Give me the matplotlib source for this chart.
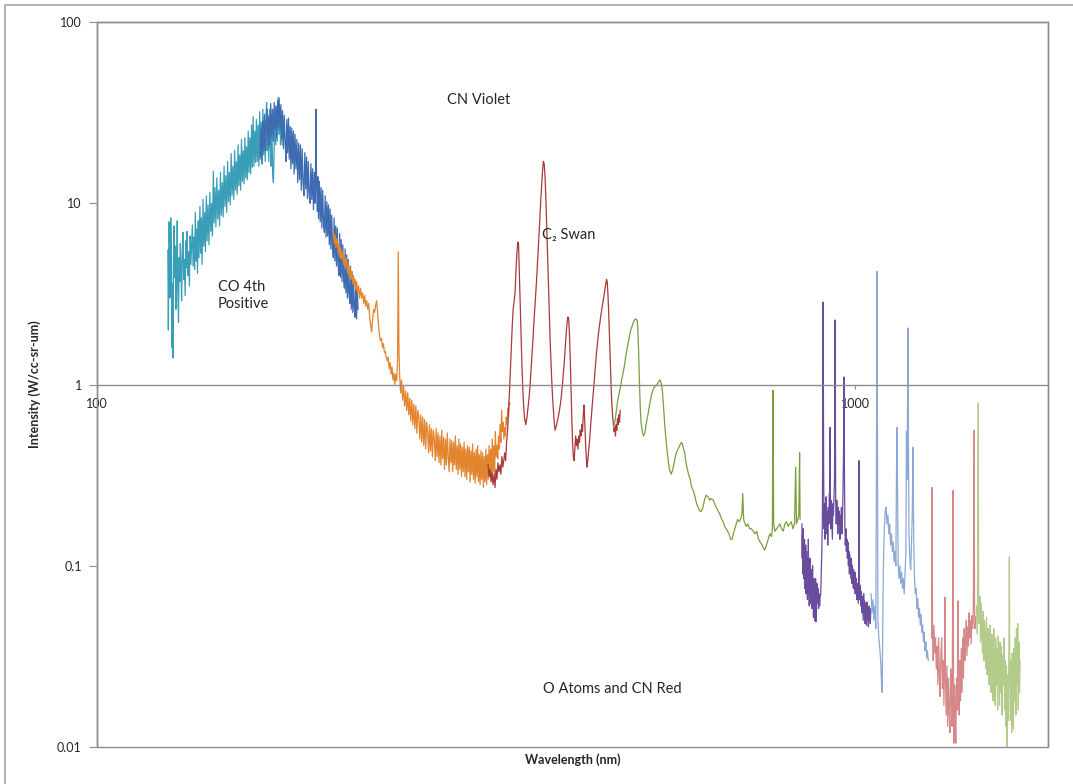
import matplotlib
matplotlib.use("Agg")
import matplotlib.pyplot as plt
from matplotlib.patches import Rectangle
from matplotlib.ticker import FixedLocator, NullLocator, FixedFormatter

plt.rcParams['font.family'] = ['Lato', 'DejaVu Sans']

# ---------------- data (wavelength nm, intensity W/cc-sr-um) ----------------
wl_teal = [124.0,124.2,124.5,124.7,124.9,125.1,125.4,125.6,125.8,126.0,126.2,126.4,126.7,126.9,127.1,127.4,127.6,127.8,128.1,128.3,
           128.6,128.8,129.1,129.3,129.6,129.9,130.1,130.4,130.7,131.0,131.3,131.5,131.8,132.1,132.4,132.7,133.0,133.3,133.6,133.9,
           134.2,134.5,134.8,135.1,135.4,135.7,136.0,136.3,136.7,137.0,137.3,137.6,138.0,138.3,138.7,139.0,139.4,139.7,140.1,140.5,
           140.9,141.3,141.7,142.0,142.4,142.7,143.1,143.5,143.9,144.3,144.7,145.1,145.5,145.9,146.3,146.7,147.1,147.5,147.9,148.3,
           148.7,149.1,149.5,149.9,150.3,150.7,151.1,151.5,151.9,152.3,152.7,153.1,153.5,153.9,154.3,154.7,155.1,155.5,155.9,156.3,
           156.7,157.1,157.5,157.9,158.3,158.7,159.1,159.5,159.9,160.3,160.7,161.1,161.5,161.9,162.3,162.7,163.1,163.5,163.9,164.3,
           164.7,165.1,165.5,165.9,166.3,166.7,167.1,167.4,167.7,168.1,168.5,168.9,169.3,169.7,170.1,170.5,170.9,171.3,171.7,172.1,
           172.5,172.9,173.4,173.8,174.2,174.6,175.0,175.5]
int_teal = [5.5,2.0,7.9,4.2,3.0,8.3,4.8,1.6,3.6,1.4,5.2,7.5,3.9,5.8,2.6,4.4,8.0,3.4,2.2,5.0,
            3.7,6.0,4.1,2.9,5.6,6.9,3.8,4.9,3.1,6.2,4.4,7.0,4.0,5.4,3.5,6.6,4.6,5.9,7.6,4.5,
            6.5,4.3,8.9,4.8,7.2,4.1,8.0,5.0,9.6,5.3,8.3,4.6,10.5,5.8,8.9,5.4,11.0,6.2,9.8,5.9,
            11.5,7.0,10.0,6.6,15.0,7.8,12.2,7.4,13.8,8.2,11.8,7.5,14.8,8.6,13.0,8.4,16.0,9.6,14.2,8.9,
            17.0,10.2,14.8,9.8,18.8,11.0,16.0,10.5,19.5,11.8,17.0,11.2,21.0,12.5,18.5,11.8,22.5,13.2,19.5,12.8,
            23.0,13.8,20.5,13.5,25.0,14.8,23.0,14.5,27.0,15.8,30.0,16.0,25.0,16.8,29.0,17.0,27.0,16.0,32.0,18.0,
            28.0,16.5,33.0,18.5,30.0,17.0,31.0,36.0,19.5,30.0,17.0,33.0,21.0,16.0,28.0,14.5,13.0,20.0,32.0,21.0,
            34.0,22.0,38.5,24.0,34.0,21.0,31.0,21.0]

wl_blue = [164.0,164.5,165.0,165.4,165.9,166.3,166.8,167.2,167.7,168.1,168.6,169.0,169.5,169.9,170.4,170.8,171.3,171.7,172.2,172.6,
           173.1,173.5,173.9,174.4,174.8,175.3,175.7,176.2,176.6,177.1,177.5,178.0,178.4,178.9,179.3,179.8,180.2,180.7,181.1,181.6,
           182.0,182.5,183.0,183.5,184.0,184.5,185.0,185.5,186.0,186.5,187.0,187.5,188.0,188.5,189.0,189.5,190.0,190.5,191.0,191.5,
           192.0,192.5,193.0,193.5,194.0,194.3,194.5,194.8,195.2,195.6,196.0,196.5,197.0,197.5,198.0,198.5,199.0,199.5,200.0,200.5,
           201.0,201.5,202.0,202.5,203.0,203.5,204.0,204.5,205.0,205.5,206.0,206.5,207.0,207.5,208.0,208.5,209.0,209.5,210.0,210.5,
           211.0,211.5,212.0,212.5,213.0,213.5,214.0,214.5,215.0,215.5,216.0,216.5,217.0,217.5,218.0,218.5,219.0,219.5,220.0,220.5,
           221.0]
int_blue = [17.5,26.0,16.5,28.5,19.5,31.0,19.5,27.5,33.0,20.5,30.5,21.0,35.5,23.0,33.0,22.0,36.0,25.5,34.5,23.0,
            37.0,26.5,38.0,25.5,35.0,22.5,32.5,20.0,30.5,22.0,17.0,29.0,19.0,29.5,17.5,26.5,15.5,26.0,16.5,25.0,
            14.5,24.0,15.5,22.5,13.0,21.5,13.5,21.0,11.8,20.0,13.0,11.0,19.0,12.0,18.0,10.6,17.0,11.2,10.0,16.5,
            10.5,15.5,9.2,14.8,10.0,20.0,33.0,13.5,9.0,14.0,8.2,13.2,7.9,12.2,7.3,11.8,7.8,6.9,11.0,6.5,
            10.2,6.6,9.8,5.9,9.3,5.6,8.6,5.7,5.0,8.3,4.8,7.5,4.5,7.3,4.6,4.0,6.8,3.9,6.3,3.7,
            5.9,3.9,3.4,5.6,3.2,5.2,3.0,4.9,3.2,2.8,4.5,2.6,4.2,2.5,3.9,2.6,2.35,3.7,2.3,3.3,
            2.6]

wl_orange = [205.0,205.6,206.1,206.6,207.2,207.7,208.2,208.8,209.3,209.8,210.4,210.9,211.4,212.0,212.5,213.1,213.6,214.1,214.7,215.2,
             215.8,216.3,216.8,217.4,217.9,218.5,219.0,219.6,220.1,220.7,221.3,222.0,222.7,223.4,224.1,224.8,225.5,226.2,226.9,227.6,
             228.3,229.0,229.7,230.3,231.0,231.7,232.4,233.1,233.8,234.5,235.2,235.9,236.6,237.3,238.0,238.7,239.4,240.1,240.8,241.5,
             242.2,242.9,243.6,244.3,245.0,245.7,246.4,247.1,247.8,248.5,249.2,249.7,250.2,250.8,251.5,252.2,253.0,253.8,254.6,255.4,
             256.2,257.0,257.8,258.6,259.4,260.2,261.0,261.8,262.6,263.4,264.2,265.0,265.8,266.6,267.4,268.2,269.0,269.8,270.6,271.4,
             272.2,273.0,273.8,274.6,275.4,276.2,277.0,277.8,278.6,279.4,280.2,281.0,281.8,282.6,283.4,284.2,285.0,285.8,286.6,287.4,
             288.2,289.0,289.8,290.6,291.4,292.2,293.0,293.8,294.6,295.4,296.2,297.0,297.8,298.6,299.4,300.2,301.0,301.8,302.6,303.4,
             304.2,305.0,305.8,306.6,307.4,308.2,309.0,309.8,310.6,311.4,312.2,313.0,313.8,314.6,315.4,316.2,317.0,317.8,318.6,319.4,
             320.2,321.0,321.8,322.6,323.4,324.2,325.0,325.8,326.6,327.4,328.2,329.0,329.8,330.6,331.4,332.2,333.0,333.8,334.6,335.4,
             336.2,337.0,337.8,338.6,339.4,340.2,341.0,341.8,342.6,343.4,344.2,345.0,345.8,346.6,347.4,348.2,349.0,349.8,350.7]
int_orange = [7.1,6.0,6.7,5.7,6.4,6.0,5.3,6.1,5.0,5.6,4.9,5.4,4.6,5.2,4.4,5.0,4.5,4.1,4.7,3.9,
              4.4,3.8,4.2,3.6,4.0,3.5,3.8,3.3,3.7,3.2,3.5,3.0,3.4,3.0,3.2,2.8,3.1,2.7,2.9,2.6,
              2.8,2.3,2.1,1.95,2.3,2.6,2.5,2.75,2.9,2.5,2.1,1.85,1.75,1.8,1.6,1.68,1.5,1.52,1.4,1.35,
              1.42,1.22,1.32,1.14,1.25,1.06,1.16,1.0,1.14,1.05,1.4,5.4,1.6,1.1,0.9,1.06,0.82,0.98,0.76,0.92,
              0.72,0.9,0.68,0.84,0.63,0.82,0.6,0.78,0.57,0.76,0.54,0.72,0.66,0.5,0.68,0.48,0.66,0.46,0.64,0.44,
              0.62,0.55,0.42,0.6,0.43,0.57,0.4,0.56,0.5,0.38,0.57,0.4,0.54,0.37,0.52,0.36,0.56,0.39,0.51,0.34,
              0.5,0.36,0.54,0.4,0.33,0.5,0.37,0.49,0.33,0.48,0.36,0.52,0.34,0.46,0.32,0.5,0.34,0.47,0.31,0.45,
              0.33,0.48,0.31,0.44,0.3,0.46,0.33,0.45,0.29,0.43,0.32,0.47,0.3,0.42,0.285,0.44,0.31,0.46,0.29,0.41,
              0.28,0.43,0.3,0.42,0.27,0.4,0.29,0.44,0.28,0.41,0.3,0.46,0.31,0.44,0.3,0.5,0.33,0.46,0.32,0.55,
              0.4,0.46,0.39,0.52,0.44,0.6,0.48,0.72,0.55,0.62,0.5,0.58,0.52,0.66,0.6,0.74,0.66,0.8,0.78]

wl_red = [328,329,330,331,332,333,334,335,336,337,338,339,340,341,342,343,344,345,346,347,
          348,349,350,351,352,353,354,355,356,357,358,359,359.8,360.5,361.5,362.5,363.5,364.5,365.5,366.5,
          367.8,369,370,371,372,373,374,375,376,377,378,379,380,381,382,383,384,385,386,387,
          388,389,390,391,392,393,394,395,396,397,398,399,400,401,402,403,404,405,406,407,
          408,409,410,411,412,413,414,415,416,417,418,419,420,421,422,423,424,425,426,427,
          428,429,430,431,432,433,434,435,436,437,438,439,440,441,442,443,444,445,446,447,
          448,450,452,454,456,458,460,462,464,466,468,470,471,472,473,474,475,476,477,478,
          479,480,481,482,483,484,485,486,487,488,489,490]
int_red = [0.36,0.31,0.34,0.29,0.33,0.28,0.32,0.27,0.34,0.3,0.37,0.33,0.36,0.32,0.4,0.35,0.38,0.42,0.38,0.48,
           0.55,0.7,0.9,1.2,1.6,2.1,2.6,2.9,3.2,4.2,5.3,6.1,6.0,4.5,2.9,1.9,1.3,0.95,0.75,0.65,
           0.6,0.65,0.72,0.8,0.9,1.05,1.25,1.5,1.8,2.2,2.6,3.1,3.7,4.5,5.5,6.8,8.5,10.5,12.5,15.0,
           17.0,16.5,14.0,10.5,7.5,5.2,3.6,2.5,1.8,1.35,1.05,0.85,0.72,0.62,0.56,0.58,0.6,0.64,0.66,0.7,
           0.75,0.8,0.88,0.98,1.1,1.25,1.45,1.7,1.95,2.2,2.36,2.3,1.9,1.4,0.95,0.65,0.48,0.4,0.38,0.45,
           0.52,0.46,0.5,0.44,0.52,0.48,0.56,0.52,0.6,0.55,0.68,0.77,0.62,0.48,0.4,0.35,0.38,0.42,0.46,0.52,
           0.6,0.75,0.95,1.2,1.5,1.8,2.1,2.4,2.7,3.0,3.4,3.8,3.7,3.2,2.6,2.0,1.5,1.15,0.9,0.75,
           0.66,0.6,0.55,0.58,0.52,0.6,0.56,0.65,0.6,0.68,0.62,0.72]

wl_green = [480,482,484,486,488,490,492,494,496,498,500,502,504,506,508,510,512,514,516,517,
            518,519,520,521,522,524,526,528,530,533,536,539,542,545,548,551,553,555,557,559,
            561,563,565,567,569,572,575,578,581,584,587,590,592,594,596,598,600,603,606,609,
            612,615,618,621,624,627,630,633,636,640,643,646,650,653,656,660,664,667,670,673,
            676,679,682,685,688,691,694,697,700,703,706,709,711,713,716,719,722,726,730,734,
            738,742,746,750,754,757,760,764,768,772,776,778,779.6,781,784,788,792,796,800,804,
            808,812,816,820,824,828,832,835,837,840,843,845,846.2]
int_green = [0.58,0.62,0.7,0.8,0.88,0.95,1.05,1.15,1.25,1.4,1.55,1.7,1.85,2.0,2.1,2.2,2.28,2.3,2.25,2.0,
             1.6,1.2,0.9,0.72,0.62,0.55,0.52,0.54,0.6,0.68,0.78,0.88,0.95,0.98,1.0,1.04,1.06,1.02,0.92,0.75,
             0.6,0.5,0.43,0.38,0.34,0.32,0.34,0.38,0.42,0.44,0.46,0.48,0.47,0.44,0.42,0.38,0.35,0.32,0.3,0.27,
             0.26,0.24,0.22,0.21,0.2,0.2,0.21,0.23,0.245,0.24,0.23,0.235,0.23,0.22,0.21,0.2,0.19,0.18,0.175,0.165,
             0.16,0.155,0.15,0.14,0.14,0.15,0.16,0.17,0.18,0.175,0.18,0.19,0.25,0.18,0.17,0.165,0.17,0.16,0.16,0.155,
             0.15,0.155,0.14,0.135,0.13,0.125,0.122,0.13,0.14,0.15,0.145,0.16,0.93,0.17,0.155,0.16,0.165,0.17,0.16,0.155,
             0.17,0.175,0.165,0.17,0.175,0.16,0.17,0.35,0.17,0.18,0.19,0.42,0.18]

wl_purple = [851,851.8,852.5,853.2,854,854.7,855.4,856.2,857,857.7,858.5,859.2,860,860.8,861.5,862.3,863,863.8,864.6,865.4,
             866.2,867,867.8,868.6,869.4,870.2,871,871.8,872.6,873.4,874.2,875,875.8,876.6,877.4,878.2,879,879.8,880.6,881.4,
             882.2,883,883.8,884.6,885.4,886.2,887,887.8,888.6,889.4,890.5,892,893.5,895,896.5,898,899.5,901,902.5,904,
             905.5,906.5,907.1,907.6,908.2,909,910,911.5,913,914.5,916,917.5,919,920.5,922,923.5,925,926.2,926.8,927.5,
             929,930.5,932,933.5,935,936.5,938,939.5,940.4,941.1,941.8,943,944.5,946,947.5,949,950.5,952,953.5,955,
             956.5,958,959.5,961,962.5,964,965.5,967,968,969.5,971,972.5,974,975.5,977,978.5,980,981.5,983,984.5,
             986,987.5,989,990.5,992,993.5,995,996.5,998,999.5,1001,1002.5,1004,1005.5,1007,1008.5,1010,1011.4,1012.2,1013,
             1014.5,1016,1017.5,1019,1020.5,1022,1023.5,1025,1026.5,1028,1029.5,1031,1032.5,1034,1035.5,1037,1038.5,1040,1041.5,1043,
             1044.5,1046,1047.5,1049]
int_purple = [0.17,0.11,0.15,0.09,0.13,0.16,0.085,0.12,0.1,0.14,0.075,0.11,0.09,0.13,0.07,0.1,0.12,0.075,0.095,0.065,
              0.11,0.085,0.14,0.07,0.09,0.06,0.1,0.075,0.11,0.062,0.085,0.07,0.095,0.058,0.08,0.066,0.1,0.06,0.075,0.052,
              0.085,0.064,0.078,0.05,0.07,0.058,0.085,0.049,0.065,0.055,0.08,0.062,0.075,0.058,0.07,0.06,0.068,0.07,0.09,0.12,
              0.18,0.5,1.6,2.85,1.2,0.35,0.16,0.22,0.14,0.19,0.24,0.15,0.2,0.13,0.21,0.17,0.25,0.2,0.58,0.2,
              0.16,0.23,0.18,0.14,0.22,0.19,0.24,0.3,0.9,2.27,0.8,0.22,0.17,0.23,0.19,0.15,0.21,0.17,0.2,0.14,
              0.19,0.16,0.21,0.15,0.18,0.25,0.4,1.1,0.4,0.17,0.13,0.16,0.12,0.14,0.11,0.135,0.1,0.12,0.09,0.115,
              0.1,0.085,0.11,0.08,0.1,0.09,0.075,0.095,0.08,0.07,0.092,0.07,0.085,0.065,0.08,0.07,0.062,0.09,0.38,0.085,
              0.065,0.078,0.06,0.072,0.055,0.068,0.058,0.05,0.07,0.056,0.064,0.048,0.062,0.055,0.047,0.063,0.05,0.058,0.046,0.06,
              0.05,0.056,0.048,0.058]

wl_lblue = [1050,1053,1056,1059,1062,1065,1067,1069,1070.5,1072,1075,1078,1081,1084,1086,1088,1090,1093,1096,1099,
            1102,1105,1108,1111,1114,1117,1120,1123,1126,1129,1132,1134,1136,1138,1140,1143,1146,1149,1152,1155,
            1158,1161,1164,1167,1169,1171,1173,1174.7,1176,1178,1181,1184,1187,1190,1192.7,1195,1198,1201,1204,1207,
            1210,1213,1216,1219,1222,1225,1228,1231,1234,1237,1240,1243,1246,1249]
int_lblue = [0.07,0.055,0.065,0.05,0.06,0.045,0.3,4.2,0.5,0.05,0.04,0.035,0.03,0.022,0.02,0.05,0.1,0.16,0.2,0.21,
             0.17,0.19,0.15,0.17,0.13,0.15,0.12,0.135,0.105,0.12,0.1,0.3,0.58,0.25,0.1,0.085,0.1,0.08,0.092,0.075,
             0.085,0.07,0.09,0.12,0.55,0.3,0.8,2.05,0.5,0.15,0.11,0.095,0.13,0.2,0.45,0.14,0.085,0.07,0.075,0.058,
             0.066,0.052,0.058,0.047,0.054,0.043,0.047,0.038,0.043,0.034,0.038,0.031,0.034,0.03]

wl_pink = [1262,1263.6,1265.5,1268,1271,1274,1277,1280,1283,1286,1289,1292,1295,1298,1301,1304,1307,1310,1313,1314.5,
           1316,1319,1322,1325,1328,1331,1334,1337,1340,1343,1345.5,1347,1348.5,1350,1353,1356,1358,1361,1364,1367.6,
           1369.5,1372,1375,1378,1381,1384,1387,1390,1393,1396,1399,1402,1405,1408,1411,1414,1417,1420,1423,1426,
           1429,1432,1434.5,1436,1437.5,1440,1443]
int_pink = [0.04,0.27,0.042,0.03,0.047,0.033,0.04,0.027,0.036,0.022,0.04,0.025,0.019,0.033,0.04,0.021,0.03,0.017,0.038,0.067,
            0.024,0.015,0.028,0.013,0.024,0.016,0.012,0.027,0.02,0.013,0.1,0.26,0.03,0.0105,0.022,0.014,0.0105,0.024,0.016,0.064,
            0.022,0.015,0.03,0.018,0.035,0.02,0.04,0.024,0.045,0.03,0.038,0.05,0.032,0.046,0.036,0.055,0.04,0.05,0.037,0.053,
            0.045,0.05,0.2,0.56,0.06,0.045,0.052]

wl_lgreen = [1447,1450,1452.5,1454,1455.5,1458,1461,1464,1467,1470,1473,1476,1479,1482,1485,1488,1491,1494,1497,1500,
             1503,1506,1509,1512,1515,1518,1521,1524,1527,1530,1533,1536,1539,1542,1545,1548,1551,1554,1557,1560,
             1563,1566,1569,1572,1575,1578,1581,1584,1587,1590,1593,1596,1598,1600,1603,1606,1609,1612,1615,1618,
             1621,1624,1627,1630,1633,1636,1639,1642,1645,1648,1651]
int_lgreen = [0.06,0.042,0.3,0.79,0.07,0.048,0.068,0.038,0.062,0.042,0.033,0.056,0.03,0.05,0.04,0.027,0.052,0.025,0.045,0.033,
              0.022,0.047,0.028,0.02,0.042,0.03,0.018,0.045,0.025,0.017,0.04,0.022,0.035,0.016,0.041,0.027,0.017,0.038,0.02,0.036,
              0.015,0.032,0.022,0.04,0.016,0.03,0.013,0.028,0.01,0.025,0.014,0.04,0.112,0.03,0.014,0.03,0.012,0.033,0.017,0.0125,
              0.035,0.018,0.04,0.015,0.045,0.022,0.048,0.016,0.038,0.02,0.03]

series = [
    (wl_teal, int_teal, '#3A9EB8'),
    (wl_blue, int_blue, '#3E6CB2'),
    (wl_orange, int_orange, '#E2852E'),
    (wl_red, int_red, '#A83A3C'),
    (wl_green, int_green, '#7B9E3E'),
    (wl_purple, int_purple, '#6A4C9C'),
    (wl_lblue, int_lblue, '#8CA8D5'),
    (wl_pink, int_pink, '#D68888'),
    (wl_lgreen, int_lgreen, '#B3CB8A'),
]

x_ticks = [100, 1000]
x_tick_labels = ['100', '1000']
y_ticks = [0.01, 0.1, 1, 10, 100]
y_tick_labels = ['0.01', '0.1', '1', '10', '100']

annotations = [
    ('CO 4th\nPositive', 144.4, 3.1, 'left'),
    ('CN Violet', 319.0, 37.0, 'center'),
    ('C\u2082 Swan', 386.5, 6.7, 'left'),
    ('O Atoms and CN Red', 478.0, 0.021, 'center'),
]

# ---------------- figure ----------------
W, H = 1073, 784
fig = plt.figure(figsize=(W / 100, H / 100), dpi=100)
fig.patches.append(Rectangle((5 / W, -0.05), 1.2, 1.05 - 5 / H, transform=fig.transFigure,
                             fill=False, edgecolor='#A6A6A6', lw=1.2))

ax = fig.add_axes([97 / W, (H - 747) / H, (1048 - 97) / W, (747 - 22) / H])
ax.set_xscale('log')
ax.set_yscale('log')
ax.set_xlim(100, 1797)
ax.set_ylim(0.01, 100)

for xs, ys, col in series:
    ax.plot(xs, ys, color=col, lw=0.9)

grey = '#8C8C8C'
for s in ['top', 'right', 'left']:
    ax.spines[s].set_color(grey)
    ax.spines[s].set_linewidth(1.0)
ax.spines['bottom'].set_position(('data', 1))
ax.spines['bottom'].set_color(grey)
ax.spines['bottom'].set_linewidth(1.0)
ax.add_patch(Rectangle((0, 0), 1, 1, transform=ax.transAxes, fill=False,
                       edgecolor=grey, lw=1.0, clip_on=False, zorder=0.5))

ax.xaxis.set_major_locator(FixedLocator(x_ticks))
ax.xaxis.set_major_formatter(FixedFormatter(x_tick_labels))
ax.xaxis.set_minor_locator(NullLocator())
ax.yaxis.set_major_locator(FixedLocator(y_ticks))
ax.yaxis.set_major_formatter(FixedFormatter(y_tick_labels))
ax.yaxis.set_minor_locator(NullLocator())
ax.tick_params(axis='x', direction='out', length=3, width=0.8, color=grey, pad=7,
               labelsize=9, labelcolor='#262626')
ax.tick_params(axis='y', direction='out', length=6, width=0.8, color=grey, pad=5,
               labelsize=9, labelcolor='#262626')

for txt, x, y, ha in annotations:
    ax.text(x, y, txt, ha=ha, va='center', fontsize=10.5, color='#262626', linespacing=1.25)

fig.text(573 / W, 1 - 760 / H, 'Wavelength (nm)', ha='center', va='center',
         fontsize=9, fontweight='bold', color='#262626')
fig.text(35 / W, 1 - 384 / H, 'Intensity (W/cc-sr-um)', ha='center', va='center',
         rotation=90, fontsize=9, fontweight='bold', color='#262626')

fig.savefig('out.png', dpi=100)
